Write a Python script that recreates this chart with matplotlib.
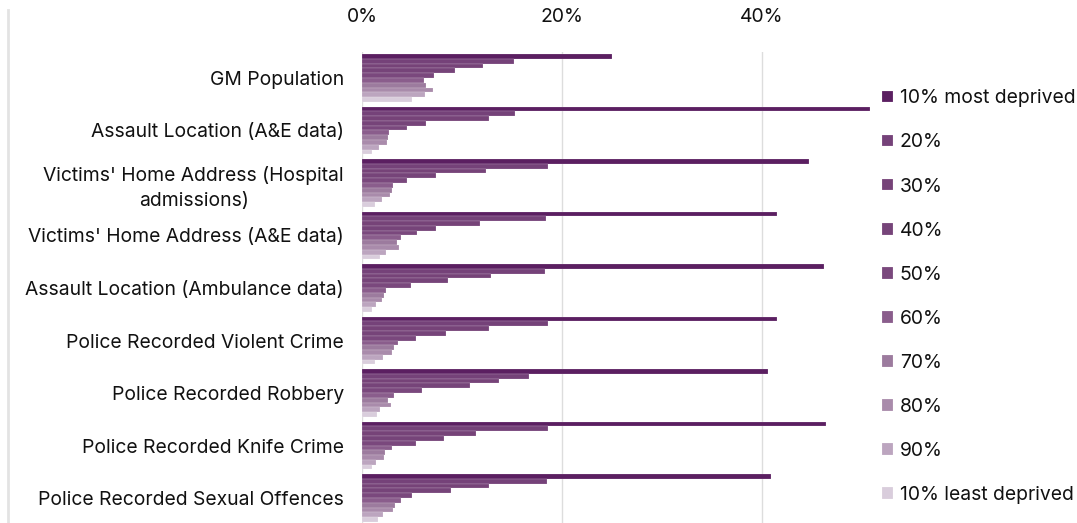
import matplotlib
matplotlib.use('Agg')
import matplotlib.pyplot as plt
import numpy as np
from matplotlib.lines import Line2D

plt.rcParams['font.family'] = ['Inter', 'DejaVu Sans']

# categorias (de cima para baixo)
categorias = ['GM Population',
              'Assault Location (A&E data)',
              "Victims' Home Address (Hospital\nadmissions)",
              "Victims' Home Address (A&E data)",
              'Assault Location (Ambulance data)',
              'Police Recorded Violent Crime',
              'Police Recorded Robbery',
              'Police Recorded Knife Crime',
              'Police Recorded Sexual Offences']

series = ['10% most deprived', '20%', '30%', '40%', '50%',
          '60%', '70%', '80%', '90%', '10% least deprived']

# valores em % por decil, uma lista por categoria
gm_population = [25.0, 15.2, 12.1, 9.3, 7.2, 6.2, 6.4, 7.1, 6.3, 5.0]
assault_ae = [50.8, 15.3, 12.7, 6.4, 4.5, 2.7, 2.6, 2.5, 1.7, 1.0]
victims_hospital = [44.7, 18.6, 12.4, 7.4, 4.5, 3.1, 3.0, 2.8, 2.0, 1.3]
victims_ae = [41.5, 18.4, 11.8, 7.4, 5.5, 3.9, 3.5, 3.7, 2.4, 1.8]
assault_ambulance = [46.2, 18.3, 12.9, 8.6, 4.9, 2.4, 2.2, 2.0, 1.4, 1.0]
police_violent = [41.5, 18.6, 12.7, 8.4, 5.4, 3.6, 3.2, 3.0, 2.1, 1.3]
police_robbery = [40.6, 16.7, 13.7, 10.8, 6.0, 3.2, 2.6, 2.9, 1.8, 1.5]
police_knife = [46.4, 18.6, 11.4, 8.2, 5.4, 3.0, 2.3, 2.2, 1.4, 1.0]
police_sexual = [40.9, 18.5, 12.7, 8.9, 5.0, 3.9, 3.3, 3.1, 2.1, 1.6]

valores = np.array([gm_population, assault_ae, victims_hospital, victims_ae,
                    assault_ambulance, police_violent, police_robbery,
                    police_knife, police_sexual])

cores = ['#5b1f61', '#754279', '#764378', '#764479', '#7a487d',
         '#8a5d8c', '#9c7b9e', '#a98bab', '#bca5bf', '#d9cddc']

fig = plt.figure(figsize=(10.77, 5.23), dpi=100)
ax = fig.add_axes([362/1077, 0.0, 510/1077, 1 - 52/523])

n = len(series)
altura = 0.913 / n
y = np.arange(len(categorias))
for j in range(n):
    pos = y - 0.4565 + altura * (j + 0.5)
    ax.barh(pos, valores[:, j], height=altura, color=cores[j],
            edgecolor='white', linewidth=0.12, label=series[j], zorder=2)

ax.set_ylim(8.476, -0.495)
ax.set_xlim(0, 51)
ax.set_yticks(y)
ax.set_yticklabels(categorias, multialignment='center', linespacing=1.45)
ax.set_xticks([0, 20, 40])
ax.set_xticklabels(['0%', '20%', '40%'])
ax.xaxis.tick_top()
ax.tick_params(axis='x', length=0, pad=19, labelsize=13.9, colors='#111111')
ax.tick_params(axis='y', length=0, pad=13, labelsize=13.9, colors='#111111')
ax.grid(axis='x', color='#dddddd', linewidth=1)
ax.set_axisbelow(True)
for s in ax.spines.values():
    s.set_visible(False)

leg = ax.legend(loc='upper left', bbox_to_anchor=(865/1077, 1 - 72/523),
                bbox_transform=fig.transFigure, frameon=False,
                handlelength=0.55, handleheight=0.55, handletextpad=0.35,
                labelspacing=1.35, fontsize=13.9)
for t in leg.get_texts():
    t.set_color('#111111')

# linha cinza da borda esquerda
fig.add_artist(Line2D([8/1077, 8/1077], [0, 1 - 10/523],
                      transform=fig.transFigure, color='#e3e3e3', linewidth=2))

plt.savefig('out.png', dpi=100)
